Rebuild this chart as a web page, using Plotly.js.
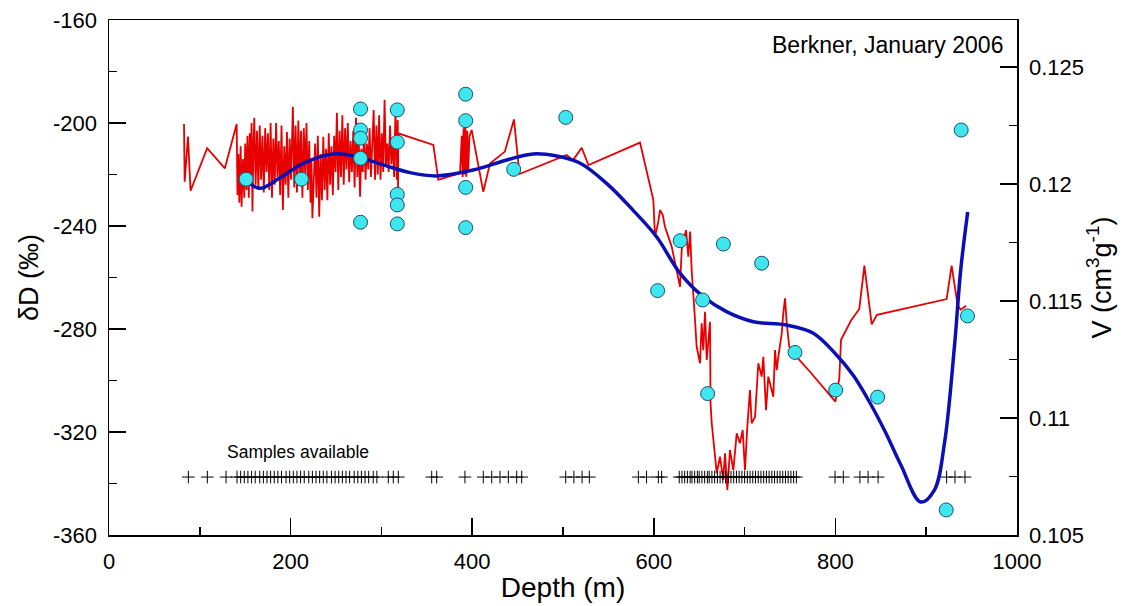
<!DOCTYPE html>
<html>
<head>
<meta charset="utf-8">
<script src="https://cdn.plot.ly/plotly-3.0.1.min.js"></script>
<style>html,body{margin:0;padding:0;background:#fff;}#chart{width:1126px;height:606px;}</style>
</head>
<body>
<div id="chart"></div>
<script>
// δD record (left axis)
const ddDepth = [82.6,83.3,87,89.8,108.1,127.6,
140.6,141.5,142.5,143.5,145,146,147.5,149,150,151.5,152.5,154,155,156,157,158,159,160,161.5,163,164.5,166,167.5,169,170.5,172,173.5,175,176.5,178,179.5,181,182.5,184,185.5,187,188.5,190,191.5,193,194.5,196,197.5,199,200.5,202.5,204,205.5,207,208.5,210,211.5,213,214.5,216,217.5,219,220.5,222,223,224,225.5,227,228.5,230,231.5,233,234.5,236,237.5,239,240.5,242,243.5,245,246.5,248,249.5,251,252.5,254,255.5,257,258.5,260,261.5,263,264.5,266,267.5,269,270.5,272,273.5,275,276.5,278,279.5,281,282.5,284,285.5,287,288.5,290,291.5,293,294.5,296,297.5,299,300.5,302,303.5,305,306.5,308,309.5,311,312.5,314,315.5,317,318,318.3,318.6,
357.2,362.7,386.6,388.5,389.5,390.5,391.5,392.5,393.5,394.5,395.5,397,399.4,412.2,419.6,436,446,452,504,511,520.6,528,584.8,594,
599.5,601.3,605,606.8,609.8,612.3,619.7,628.9,630.7,633,635.5,638,640,641.7,643.5,645.4,647.2,650.9,652.7,654.5,656.4,658.3,661.9,662.5,663.8,667.4,669.3,672.9,676.5,678.4,681,683.9,687.6,691.3,694.9,697.9,700.4,703,705.9,707.8,711.5,713.3,715.1,718.8,720.6,723.6,726.1,729.8,731.6,733.5,735.4,737.1,740.9,742.6,744.5,746.4,749.2,753.6,772,800,804.3,806.2,817.2,826.3,831.9,840,845.8,922.5,928,934.6,938,944];
const ddValue = [-200.4,-222.8,-205.3,-226.3,-209.8,-217.6,
-200.4,-228,-212,-231,-209,-232.5,-214,-229,-208,-226,-205,-229,-204,-220,-200,-234.4,-210,-198,-224,-203,-226,-201,-222,-205,-227,-202,-219,-204,-226,-200,-229,-206,-224,-200,-221,-207,-228,-201,-233.8,-209,-224,-203.5,-229,-206,-222,-193.7,-225,-201,-227,-199,-222,-203,-229,-202,-220,-200,-226,-207,-231,-215,-237,-218,-208,-229,-205,-236.4,-212,-230,-205.3,-226,-210,-230,-204,-224,-209,-228,-205,-219,-196,-226,-203,-221,-197,-224,-202,-218,-200,-223,-207,-219,-203,-225,-198,-221,-205,-228.6,-210,-219,-203,-222,-208,-218,-202,-221,-207,-195,-222,-201,-220,-197,-222,-204,-219,-191,-217,-208,-219,-201,-216,-206,-221,-195,-222,-198.8,-226,-204,
-208.5,-222.1,-219.4,-205,-221,-202,-220,-201.4,-220.9,-203,-219,-205,-202.7,-226.7,-215.7,-211.1,-198.6,-219.8,-212.4,-214.4,-209.6,-216.3,-207.6,-220.8,
-229.9,-244.2,-238.3,-233.8,-235.7,-240.3,-248,-263.6,-249.3,-245,-241.6,-251.9,-242.2,-257.1,-264.9,-276.5,-286.9,-293.3,-277.8,-288.2,-273.3,-292,-277.2,-308.9,-316.6,-329.6,-336,-329.6,-338.6,-328.3,-342.5,-327,-334.8,-320.5,-324.4,-319.2,-334.8,-317.9,-303.7,-316.6,-314.1,-303.7,-293.3,-298.5,-290.8,-311.5,-298.5,-303.7,-306.3,-288.2,-296,-290.8,-281.7,-273.9,-268.1,-277.8,-286.9,-289.4,-296.6,-308.2,-299.2,-284.2,-276.7,-272.2,-255.4,-278.2,-274.5,-268.4,-255.4,-270.7,-272.5,-271];

// Specific volume measurements (right axis)
const vDepth = [151,212,277,277,277,277,277,317.5,317.5,317.5,317.5,317.5,392.8,392.8,392.8,392.8,445.7,503,629,676.6,718.8,604.2,653.8,659.3,755.5,800.3,846.5,922,938.5,945.5];
const vValue = [0.1202,0.1202,0.1232,0.1223,0.12195,0.12109,0.11836,0.12316,0.12178,0.11955,0.1191,0.11829,0.12383,0.1227,0.11985,0.11813,0.12062,0.12284,0.11757,0.11743,0.11661,0.11544,0.11504,0.11104,0.1128,0.11119,0.11089,0.10607,0.1223,0.11436];

// Fitted curve (right axis)
const fitDepth = [150,166,188,214,247,273,302,331.5,361,401,438,467,493,519,548,577,603,629,654.5,680,709.6,746,775.7,801,820,838,855,872,894,909,920,931,938,945.7];
const fitValue = [0.1202,0.11981,0.12025,0.12088,0.12128,0.12116,0.12081,0.12048,0.12034,0.12059,0.12102,0.12128,0.12119,0.12088,0.12002,0.11888,0.11774,0.11618,0.11518,0.11454,0.11411,0.11397,0.11362,0.1127,0.1118,0.11065,0.1094,0.108,0.10641,0.10692,0.10889,0.11301,0.11632,0.1188];

// Samples available
const sampleDepth = [87.4,108.3,128.9,141,145,149,153,157,161,166,170,174,178,182,186,190,195,199,203,207,211,215,220,224,228,232,236,240,245,249,253,257,261,265,270,274,278,282,286,291,295,307.6,313.1,318.6,355.4,360.9,392,412.2,421.5,430.6,439.8,449,454.5,503,512,521,529,583,592,605,608.6,628,631,634,637,640,642,645,648,650,653,656,659,661,664,667,670,673,676,679,682,685,688,691,694,697,700,703,706,709,712,715,718,721,724,727,730,733,736,739,742,745,748,751,754,757,799.6,808.7,827,836,847,922.5,931.7,942.7];
const sampleLevel = -337.5;

const xTickVals = [0,200,400,600,800,1000];
const xTickText = ['0','200','400','600','800','1000'];
const yTickVals = [-360,-320,-280,-240,-200,-160];
const yTickText = ['-360','-320','-280','-240','-200','-160'];
const y2TickVals = [0.105,0.11,0.115,0.12,0.125];
const y2TickText = ['0.105','0.11','0.115','0.12','0.125'];

const FONT = 'Liberation Sans, Arial, sans-serif';

const traces = [
  {x: ddDepth, y: ddValue, type: 'scatter', mode: 'lines', yaxis: 'y',
   line: {color: '#e80000', width: 1.8}, hoverinfo: 'skip'},
  {x: sampleDepth, y: sampleDepth.map(() => sampleLevel), type: 'scatter', mode: 'markers', yaxis: 'y',
   marker: {symbol: 'cross-thin', size: 9, line: {color: '#000', width: 1}}, hoverinfo: 'skip'},
  {x: fitDepth, y: fitValue, type: 'scatter', mode: 'lines', yaxis: 'y2',
   line: {color: '#0b10b4', width: 3.5, shape: 'spline', smoothing: 1}, hoverinfo: 'skip'},
  {x: vDepth, y: vValue, type: 'scatter', mode: 'markers', yaxis: 'y2',
   marker: {color: '#3ee6ee', size: 14, line: {color: '#1f4f6f', width: 1}}, hoverinfo: 'skip'}
];

const axisCommon = {
  showline: true, linecolor: '#000', linewidth: 1.5,
  ticks: 'inside', ticklen: 17, tickwidth: 1.5, tickcolor: '#000',
  showgrid: false, zeroline: false,
  tickfont: {family: FONT, size: 22, color: '#000'},
  ticklabelstandoff: 6
};

const layout = {
  width: 1126, height: 606,
  margin: {l: 109, r: 109, t: 20, b: 71, pad: 0},
  paper_bgcolor: '#fff', plot_bgcolor: '#fff',
  showlegend: false,
  font: {family: FONT, color: '#000'},
  xaxis: Object.assign({}, axisCommon, {
    range: [0, 1000], mirror: true,
    tickmode: 'array', tickvals: xTickVals, ticktext: xTickText,
    minor: {ticks: 'inside', ticklen: 8, tickwidth: 1.5, tickcolor: '#000', dtick: 100, tick0: 0, showgrid: false},
    title: {text: 'Depth (m)', font: {family: FONT, size: 28, color: '#000'}, standoff: 4}
  }),
  yaxis: Object.assign({}, axisCommon, {
    range: [-360, -160],
    tickmode: 'array', tickvals: yTickVals, ticktext: yTickText,
    minor: {ticks: 'inside', ticklen: 8, tickwidth: 1.5, tickcolor: '#000', dtick: 20, tick0: -360, showgrid: false},
    title: {text: 'δD (‰)', font: {family: FONT, size: 27, color: '#000'}, standoff: 6}
  }),
  yaxis2: Object.assign({}, axisCommon, {
    range: [0.105, 0.127], overlaying: 'y', side: 'right',
    tickmode: 'array', tickvals: y2TickVals, ticktext: y2TickText,
    minor: {ticks: 'inside', ticklen: 8, tickwidth: 1.5, tickcolor: '#000', dtick: 0.0025, tick0: 0.105, showgrid: false},
    title: {text: 'V (cm<sup>3</sup>g<sup>-1</sup>)', font: {family: FONT, size: 27, color: '#000'}, standoff: 6}
  }),
  annotations: [
    {xref: 'paper', yref: 'paper', x: 0.987, y: 0.951, xanchor: 'right', yanchor: 'middle',
     text: 'Berkner, January 2006', showarrow: false, font: {family: FONT, size: 23, color: '#000'}},
    {xref: 'x', yref: 'y', x: 208, y: -327.8, xanchor: 'center', yanchor: 'middle',
     text: 'Samples available', showarrow: false, font: {family: FONT, size: 17.5, color: '#000'}}
  ]
};

Plotly.newPlot('chart', traces, layout, {displayModeBar: false, staticPlot: true});
</script>
</body>
</html>
